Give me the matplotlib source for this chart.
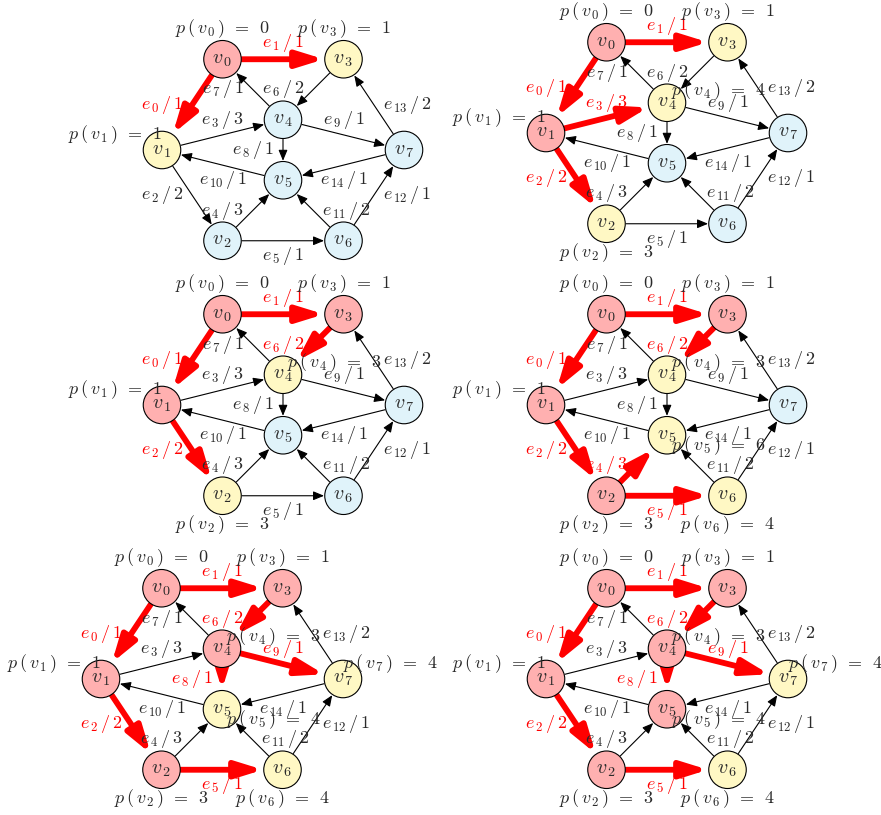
import matplotlib
matplotlib.use("Agg")
import matplotlib.pyplot as plt
from matplotlib.patches import Circle, FancyArrowPatch

plt.rcParams["mathtext.fontset"] = "cm"

# graph: node layout (graph units) and directed edges (src, dst, weight)
NODE_POS = {0: (-1, 1.5), 1: (-2, 0), 2: (-1, -1.5), 3: (1, 1.5),
            4: (0, 0.5), 5: (0, -0.5), 6: (1, -1.5), 7: (2, 0)}
EDGE_SRC = [0, 0, 1, 1, 2, 2, 3, 4, 4, 4, 5, 6, 6, 7, 7]
EDGE_DST = [1, 3, 2, 4, 5, 6, 4, 0, 5, 7, 1, 5, 7, 3, 5]
EDGE_W = [1, 1, 2, 3, 3, 1, 2, 1, 1, 1, 1, 2, 1, 2, 1]
EDGE_LABEL_POS = [(-2.0, 0.75), (0, 1.77), (-2.0, -0.75), (-1, 0.5),
                  (-1, -1.0), (0, -1.75), (0, 1.0), (-1, 1.0), (-0.5, 0),
                  (1, 0.5), (-1, -0.5), (1.05, -1.0), (2.05, -0.75),
                  (2.05, 0.75), (1, -0.5)]

# where each p(v) label goes: (dx, dy, ha)
P_LABEL = {0: (0, 0.5, "center"), 3: (0, 0.5, "center"),
           2: (0, -0.47, "center"), 6: (0, -0.47, "center"),
           1: (0, 0.25, "right"), 7: (0, 0.25, "left"),
           4: (0.07, 0.2, "left"), 5: (0.07, -0.17, "left")}

# the six Dijkstra steps
STEP_DONE = [[0], [0, 1], [0, 1, 3], [0, 1, 2, 3],
             [0, 1, 2, 3, 4], [0, 1, 2, 3, 4, 5]]
STEP_FRONT = [[1, 3], [2, 3, 4], [2, 4], [4, 5, 6],
              [5, 6, 7], [6, 7]]
STEP_RED = [[0, 1], [0, 1, 2, 3], [0, 1, 2, 6], [0, 1, 2, 4, 5, 6],
            [0, 1, 2, 5, 6, 8, 9], [0, 1, 2, 5, 6, 8, 9]]
STEP_DIST = [{0: 0, 3: 1, 1: 1},
             {0: 0, 3: 1, 1: 1, 4: 4, 2: 3},
             {0: 0, 3: 1, 1: 1, 4: 3, 2: 3},
             {0: 0, 3: 1, 1: 1, 4: 3, 5: 6, 2: 3, 6: 4},
             {0: 0, 3: 1, 1: 1, 4: 3, 7: 4, 5: 4, 2: 3, 6: 4},
             {0: 0, 3: 1, 1: 1, 4: 3, 7: 4, 5: 4, 2: 3, 6: 4}]

# panel centres in pixels (from top-left of the 881x815 canvas)
PANEL_CENTRE = [(283, 150), (667, 133), (283, 405), (667, 405),
                (222, 679), (667, 679)]

W, H, DPI = 881, 815, 100
PX = 60.5             # pixels per graph unit
R = 0.31              # node radius
XR, YR = 3.7, 2.3
C_DONE, C_FRONT, C_REST = "#ffb0b0", "#fff8c4", "#e0f3fa"
TXT = "#2a2a2a"
FS = 13


def draw_step(ax, k):
    shrink = R * PX * 72 / DPI + 0.5
    for i, (s, d) in enumerate(zip(EDGE_SRC, EDGE_DST)):
        red = i in STEP_RED[k]
        if red:
            style = "-|>,head_length=1.45,head_width=0.45"
            arr = FancyArrowPatch(NODE_POS[s], NODE_POS[d], arrowstyle=style,
                                  mutation_scale=11, lw=4.2, color="red",
                                  shrinkA=shrink, shrinkB=shrink, zorder=2)
        else:
            style = "-|>,head_length=0.65,head_width=0.27"
            arr = FancyArrowPatch(NODE_POS[s], NODE_POS[d], arrowstyle=style,
                                  mutation_scale=10, lw=0.8, color="black",
                                  shrinkA=shrink, shrinkB=shrink, zorder=1)
        ax.add_patch(arr)
        lx, ly = EDGE_LABEL_POS[i]
        ax.text(lx, ly, rf"$e_{{\,{i}}}\,/\,{EDGE_W[i]}$", fontsize=FS,
                ha="center", va="center", color="red" if red else TXT,
                zorder=5)

    for n, (x, y) in NODE_POS.items():
        if n in STEP_DONE[k]:
            fc = C_DONE
        elif n in STEP_FRONT[k]:
            fc = C_FRONT
        else:
            fc = C_REST
        ax.add_patch(Circle((x, y), R, fc=fc, ec="black", lw=0.8, zorder=3))
        ax.text(x, y, rf"$v_{{\,{n}}}$", fontsize=FS + 1.5, ha="center",
                va="center", color=TXT, zorder=4)

    for n, dist in STEP_DIST[k].items():
        dx, dy, ha = P_LABEL[n]
        x, y = NODE_POS[n]
        ax.text(x + dx, y + dy, rf"$p\,(\,v_{{\,{n}}}\,)\;\,=\;\,{dist}$",
                fontsize=FS, ha=ha, va="center", color=TXT, zorder=6)


fig = plt.figure(figsize=(W / DPI, H / DPI), dpi=DPI)
for k, (cx, cy) in enumerate(PANEL_CENTRE):
    aw, ah = 2 * XR * PX, 2 * YR * PX
    ax = fig.add_axes([(cx - aw / 2) / W, (H - cy - ah / 2) / H, aw / W, ah / H])
    ax.set_xlim(-XR, XR)
    ax.set_ylim(-YR, YR)
    ax.axis("off")
    draw_step(ax, k)

fig.savefig("out.png", dpi=DPI)
